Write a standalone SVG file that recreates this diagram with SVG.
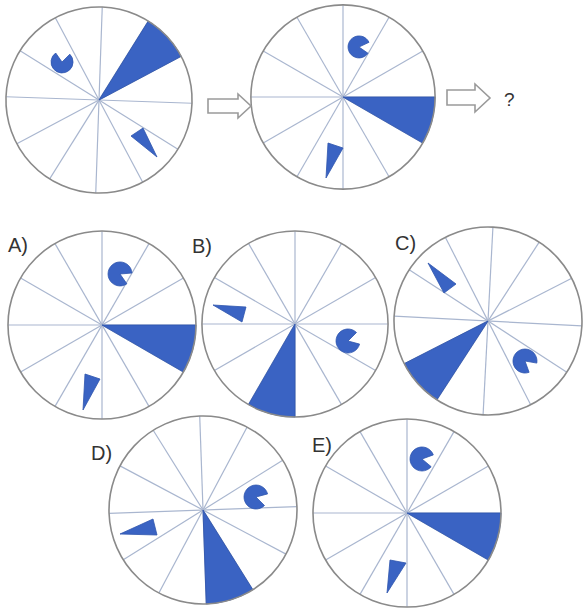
<svg xmlns="http://www.w3.org/2000/svg" xmlns:xlink="http://www.w3.org/1999/xlink" width="584" height="612" viewBox="0 0 584 612">
<style>
.spoke{stroke:#a9b6cf;stroke-width:1.2;fill:none}
.rim{fill:none;stroke:#8a8a8a;stroke-width:1.6}
.bg{fill:#ffffff}
.blue{fill:#3a63c3;stroke:#2f55ad;stroke-width:0.8}
.lbl{font-family:"Liberation Sans","Open Sans",sans-serif;font-size:20px;fill:#333333}
.arrow{fill:#ffffff;stroke:#9a9a9a;stroke-width:1.6}
</style>
<defs>
<g id="spokes">
<line class="spoke" x1="0" y1="-94" x2="0" y2="94"/>
<line class="spoke" x1="47" y1="-81.4" x2="-47" y2="81.4"/>
<line class="spoke" x1="81.4" y1="-47" x2="-81.4" y2="47"/>
<line class="spoke" x1="94" y1="0" x2="-94" y2="0"/>
<line class="spoke" x1="81.4" y1="47" x2="-81.4" y2="-47"/>
<line class="spoke" x1="47" y1="81.4" x2="-47" y2="-81.4"/>
</g>
<path id="sector" d="M0,0 L0,-94 A94,94 0 0 1 47,-81.4 Z"/>
</defs>
<rect width="584" height="612" fill="#ffffff"/>

<g id="circle1">
<g transform="translate(99,100) rotate(2) scale(0.99)">
<circle class="bg" r="94"/>
<use xlink:href="#spokes"/>
<use xlink:href="#sector" class="blue" transform="rotate(30)"/>
<circle class="rim" r="94"/>
</g>
<path class="blue" d="M62,62 L69.8,54.2 A11,11 0 1 1 55.7,53 Z"/>
<polygon class="blue" points="131,136 143,128 157,157"/>
</g>

<g id="circle2">
<g transform="translate(343,97) scale(0.98)">
<circle class="bg" r="94"/>
<use xlink:href="#spokes"/>
<use xlink:href="#sector" class="blue" transform="rotate(90)"/>
<circle class="rim" r="94"/>
</g>
<path class="blue" d="M359,47 L368,53.3 A11,11 0 1 1 369,42.3 Z"/>
<polygon class="blue" points="328,143 343,148 326,178"/>
</g>

<g id="circleA">
<g transform="translate(102,325)">
<circle class="bg" r="94"/>
<use xlink:href="#spokes"/>
<use xlink:href="#sector" class="blue" transform="rotate(90)"/>
<circle class="rim" r="94"/>
</g>
<path class="blue" d="M120,274 L126.9,283.8 A12,12 0 1 1 132,273 Z"/>
<polygon class="blue" points="85,374 100,379 83,410"/>
<text class="lbl" x="8" y="252">A)</text>
</g>

<g id="circleB">
<g transform="translate(295,324) scale(0.99)">
<circle class="bg" r="94"/>
<use xlink:href="#spokes"/>
<use xlink:href="#sector" class="blue" transform="rotate(180)"/>
<circle class="rim" r="94"/>
</g>
<path class="blue" d="M348,341 L359.6,344.1 A12,12 0 1 1 356.5,332.5 Z"/>
<polygon class="blue" points="213,305 246,307 242,322"/>
<text class="lbl" x="192" y="253">B)</text>
</g>

<g id="circleC">
<g transform="translate(488,321) rotate(3)">
<circle class="bg" r="94"/>
<use xlink:href="#spokes"/>
<use xlink:href="#sector" class="blue" transform="rotate(210)"/>
<circle class="rim" r="94"/>
</g>
<path class="blue" d="M525,361 L529.1,372.3 A12,12 0 1 1 536.8,363.1 Z"/>
<polygon class="blue" points="428,263 456,284 444,293"/>
<text class="lbl" x="395" y="250">C)</text>
</g>

<g id="circleD">
<g transform="translate(203,510) rotate(-2) scale(1.0)">
<circle class="bg" r="94"/>
<use xlink:href="#spokes"/>
<use xlink:href="#sector" class="blue" transform="rotate(150)"/>
<circle class="rim" r="94"/>
</g>
<path class="blue" d="M256,497 L264.5,505.5 A12,12 0 1 1 267.6,493.9 Z"/>
<polygon class="blue" points="120,534 153,519 157,535"/>
<text class="lbl" x="91" y="460">D)</text>
</g>

<g id="circleE">
<g transform="translate(407,513)">
<circle class="bg" r="94"/>
<use xlink:href="#spokes"/>
<use xlink:href="#sector" class="blue" transform="rotate(90)"/>
<circle class="rim" r="94"/>
</g>
<path class="blue" d="M422,459 L431.2,466.7 A12,12 0 1 1 433.3,454.9 Z"/>
<polygon class="blue" points="390,560 406,563 387,593"/>
<text class="lbl" x="312" y="452">E)</text>
</g>

<g id="connectors">
<polygon class="arrow" points="208,99 238,99 238,94 251,106 238,118 238,113 208,113"/>
<polygon class="arrow" points="447,90 475,90 475,84 490,98 475,112 475,105 447,105"/>
<text class="lbl" x="504" y="106" style="font-size:19px">?</text>
</g>
</svg>
